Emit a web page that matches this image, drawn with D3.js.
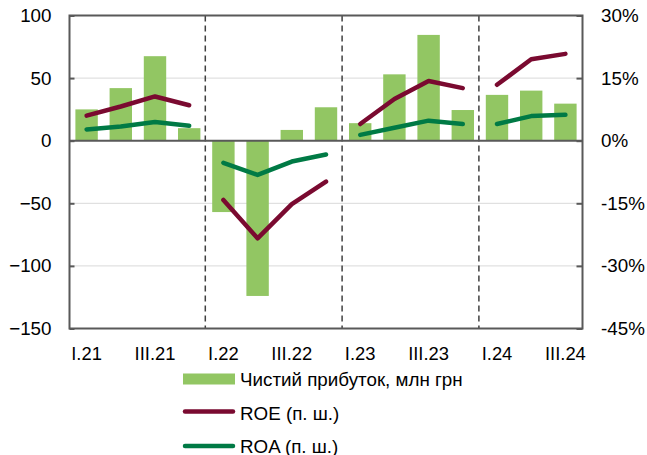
<!DOCTYPE html>
<html><head><meta charset="utf-8">
<script src="https://cdn.jsdelivr.net/npm/d3@7"></script>
<style>body{margin:0;background:#fff}svg{display:block}text{font-family:"Liberation Sans",Arial,sans-serif;fill:#000}</style>
</head><body>
<svg id="c" width="647" height="455"></svg>
<script>
const quarters = ["I.21","II.21","III.21","IV.21","I.22","II.22","III.22","IV.22","I.23","II.23","III.23","IV.23","I.24","II.24","III.24"];
const years = ["21","22","23","24"];
const profit = [25, 42, 67.5, 10, -57, -124, 8.6, 26.7, 14, 53, 84.5, 24.5, 36.6, 40, 29.6];
const roe = [6.0, 8.2, 10.6, 8.5, -14.2, -23.4, -15.2, -9.8, 4.0, 10.0, 14.3, 12.6, 13.4, 19.5, 20.8];
const roa = [2.7, 3.4, 4.5, 3.6, -5.3, -8.2, -5.0, -3.3, 1.4, 3.1, 4.8, 4.0, 4.0, 5.9, 6.2];
const leftTicks = [100, 50, 0, -50, -100, -150];
const rightTicks = [30, 15, 0, -15, -30, -45];
const xLabels = ["I.21","III.21","I.22","III.22","I.23","III.23","I.24","III.24"];
const legendLabels = ["Чистий прибуток, млн грн", "ROE (п. ш.)", "ROA (п. ш.)"];

const C = {bar:"#92C663", roe:"#7A0A30", roa:"#007A45", frame:"#595959", grid:"#D9D9D9"};
const L = 69.5, R = 582.5, T = 15.5, B = 328.5;
const FS = "18.8px";
const svg = d3.select("#c");

const x = d3.scaleBand().domain(quarters).range([L, R]).paddingInner(0.345).paddingOuter(0.1725);
const y = d3.scaleLinear().domain([-150, 100]).range([B, T]);
const yR = d3.scaleLinear().domain([-45, 30]).range([B, T]);
const cx = q => x(q) + x.bandwidth() / 2;

// gridlines
svg.append("g").selectAll("line").data(leftTicks.filter(v => v !== 0 && v !== 100 && v !== -150)).join("line")
  .attr("x1", L).attr("x2", R).attr("y1", d => y(d)).attr("y2", d => y(d))
  .attr("stroke", C.grid).attr("stroke-width", 1);

// bars
svg.append("g").selectAll("rect").data(quarters).join("rect")
  .attr("x", d => x(d)).attr("width", x.bandwidth())
  .attr("y", (d, i) => y(Math.max(0, profit[i])))
  .attr("height", (d, i) => Math.abs(y(profit[i]) - y(0)))
  .attr("fill", C.bar);

// year separators
const step = x.step();
svg.append("g").selectAll("line").data([4, 8, 12]).join("line")
  .attr("x1", i => x(quarters[i]) - step * 0.345 / 2 - 1).attr("x2", i => x(quarters[i]) - step * 0.345 / 2 - 1)
  .attr("y1", T).attr("y2", B)
  .attr("stroke", "#404040").attr("stroke-width", 1.5).attr("stroke-dasharray", "6,4");

// zero line
svg.append("line").attr("x1", L).attr("x2", R).attr("y1", y(0)).attr("y2", y(0))
  .attr("stroke", C.frame).attr("stroke-width", 2);

// lines per year
const line = d3.line().x(d => cx(d.q)).y(d => yR(d.v));
function drawSeries(vals, color) {
  years.forEach(yr => {
    const pts = quarters.map((q, i) => ({q, v: vals[i]})).filter(d => d.q.endsWith("." + yr));
    svg.append("path").attr("d", line(pts)).attr("fill", "none")
      .attr("stroke", color).attr("stroke-width", 4.5)
      .attr("stroke-linecap", "round").attr("stroke-linejoin", "round");
  });
}
drawSeries(roe, C.roe);
drawSeries(roa, C.roa);

// frame
svg.append("rect").attr("x", L).attr("y", T).attr("width", R - L).attr("height", B - T)
  .attr("fill", "none").attr("stroke", C.frame).attr("stroke-width", 2);

// left axis
const la = svg.append("g").attr("transform", `translate(${L},0)`)
  .call(d3.axisLeft(y).tickValues(leftTicks).tickSizeInner(-5).tickSizeOuter(0).tickPadding(18));
la.select(".domain").remove();
la.selectAll("line").attr("stroke", C.frame).attr("stroke-width", 2);
la.selectAll("text").attr("font-size", FS).attr("font-family", "Liberation Sans, Arial, sans-serif").attr("fill", "#000");

// right axis
const ra = svg.append("g").attr("transform", `translate(${R},0)`)
  .call(d3.axisRight(yR).tickValues(rightTicks).tickFormat(d => d + "%").tickSizeInner(-6).tickSizeOuter(0).tickPadding(18.5));
ra.select(".domain").remove();
ra.selectAll("line").attr("stroke", C.frame).attr("stroke-width", 2);
ra.selectAll("text").attr("font-size", FS).attr("font-family", "Liberation Sans, Arial, sans-serif").attr("fill", "#000");

// bottom axis
const ba = svg.append("g").attr("transform", `translate(0,${B})`)
  .call(d3.axisBottom(x).tickValues(xLabels).tickSize(0).tickPadding(18));
ba.select(".domain").remove();
ba.selectAll("text").attr("font-size", "18.4px").attr("font-family", "Liberation Sans, Arial, sans-serif").attr("fill", "#000");

// legend
const lg = svg.append("g");
lg.append("rect").attr("x", 183).attr("y", 373.5).attr("width", 52).attr("height", 11).attr("fill", C.bar);
lg.append("line").attr("x1", 185).attr("x2", 233).attr("y1", 411.5).attr("y2", 411.5)
  .attr("stroke", C.roe).attr("stroke-width", 4.5).attr("stroke-linecap", "round");
lg.append("line").attr("x1", 185).attr("x2", 233).attr("y1", 446).attr("y2", 446)
  .attr("stroke", C.roa).attr("stroke-width", 4.5).attr("stroke-linecap", "round");
lg.selectAll("text").data(legendLabels).join("text")
  .attr("x", 240).attr("y", (d, i) => [386, 419.5, 453][i])
  .attr("font-size", FS).text(d => d);
</script>
</body></html>
